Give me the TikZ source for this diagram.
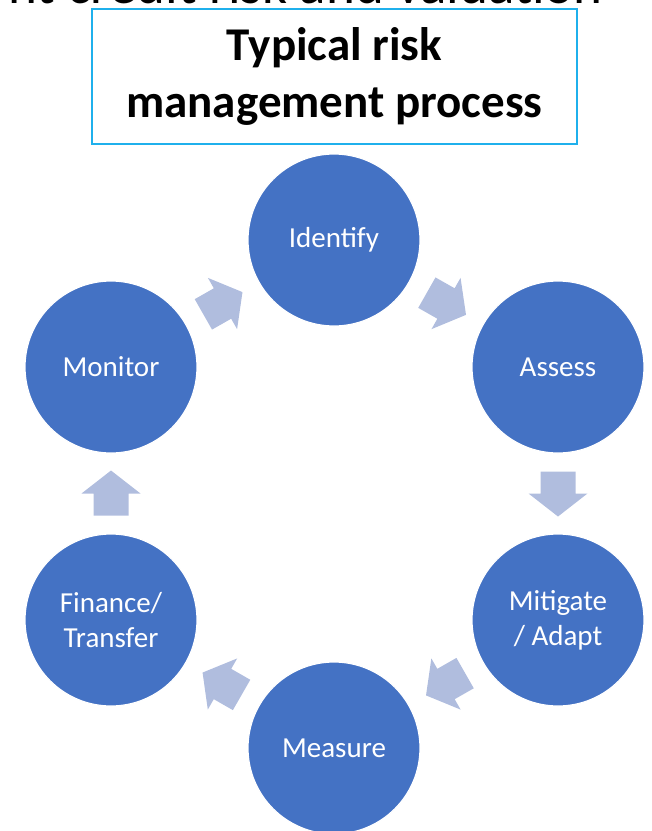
\documentclass[tikz,border=0pt]{standalone}
\usepackage{fontspec}
\setmainfont{Carlito}
\usetikzlibrary{calc}
\definecolor{circblue}{HTML}{4472C4}
\definecolor{arrowblue}{HTML}{B0BDDE}
\definecolor{boxcyan}{HTML}{1FB0EC}
\begin{document}
\begin{tikzpicture}[x=1pt,y=1pt,
  stage/.style={circle, fill=circblue, draw=white, line width=1.2pt, minimum size=172pt, inner sep=0pt, text=white, font=\fontsize{29}{35}\selectfont, align=center},
  barrow/.pic={\fill[arrowblue] (-22,-17.5) -- (0,-17.5) -- (0,-29.5) -- (23,0) -- (0,29.5) -- (0,17.5) -- (-22,17.5) -- cycle;}]
\useasboundingbox (0,0) rectangle (652,-831);
\clip (0,0) rectangle (652,-831);
\node[anchor=base east, inner sep=0pt, font=\fontsize{55}{66}\selectfont] (head) at (603,-3) {nt credit risk and valuation};
\node[draw=boxcyan, line width=1.5pt, fill=white, minimum width=485pt, minimum height=135pt, inner sep=0pt, font=\bfseries\fontsize{47}{57}\selectfont, align=center] (title) at (334.5,-76.5) {Typical risk\\management process};
\node[stage] (identify) at (334,-240) {Identify};
\node[stage] (assess) at (558,-367) {Assess};
\node[stage] (mitigate) at (558,-620) {Mitigate\\/ Adapt};
\node[stage] (measure) at (334,-748) {Measure};
\node[stage] (finance) at (111,-620) {Finance/\\Transfer};
\node[stage] (monitor) at (111,-367) {Monitor};
\foreach \a/\b in {monitor/identify, identify/assess, assess/mitigate, mitigate/measure, measure/finance, finance/monitor}
  \path let \p1=($(\b)-(\a)$), \n1={atan2(\y1,\x1)} in pic[rotate=\n1] at ($(\a)!0.5!(\b)$) {barrow};
\end{tikzpicture}
\end{document}
